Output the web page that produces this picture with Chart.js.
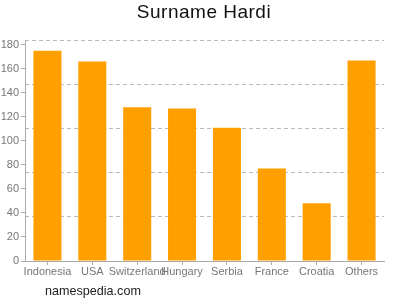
<!DOCTYPE html>
<html>
<head>
<meta charset="utf-8">
<script src="https://cdn.jsdelivr.net/npm/chart.js@4"></script>
<style>
  html, body { margin: 0; padding: 0; background: #fff; }
  #wrap { position: relative; width: 400px; height: 300px; }
  #title {
    position: absolute; left: 0; top: 2px; width: 408px; text-align: center;
    font: 19px "Liberation Sans", Arial, sans-serif; color: #111;
    line-height: 20px; letter-spacing: 0.5px;
  }
  #credit {
    position: absolute; left: 45px; top: 283px;
    font: 12.6px "Liberation Sans", Arial, sans-serif; color: #222;
    line-height: 16px;
  }
</style>
</head>
<body>
<div id="wrap">
  <canvas id="chart" width="400" height="300"></canvas>
  <div id="title">Surname Hardi</div>
  <div id="credit">namespedia.com</div>
</div>
<script>
  // ── Data ─────────────────────────────────────────────
  var countries = ["Indonesia", "USA", "Switzerland", "Hungary", "Serbia", "France", "Croatia", "Others"];
  var counts = [175, 166, 128, 127, 111, 77, 48, 167];
  var yTicks = [0, 20, 40, 60, 80, 100, 120, 140, 160, 180];
  var gridTicks = [0, 36.8, 73.6, 110.4, 147.2, 184];
  var yMax = 184;

  var font = "'Liberation Sans', Arial, sans-serif";
  var axisGray = "#aaaaaa";
  var labelGray = "#777777";

  new Chart(document.getElementById("chart"), {
    type: "bar",
    data: {
      labels: countries,
      datasets: [{
        data: counts,
        backgroundColor: "#ffa000",
        borderWidth: 0,
        categoryPercentage: 1,
        barPercentage: 0.625,
        yAxisID: "y"
      }]
    },
    options: {
      responsive: false,
      animation: false,
      layout: { padding: { left: 0, right: 16, top: 40, bottom: 0 } },
      plugins: {
        legend: { display: false },
        tooltip: { enabled: false },
        title: { display: false }
      },
      scales: {
        x: {
          offset: true,
          grid: { offset: false, drawOnChartArea: false, drawTicks: true, tickLength: 4, color: axisGray },
          border: { color: axisGray },
          ticks: { color: labelGray, font: { family: font, size: 11 }, maxRotation: 0, autoSkip: false, padding: 0 },
          afterFit: function (s) { s.height = 39; }
        },
        y: {
          min: 0,
          max: yMax,
          grid: { drawOnChartArea: false, drawTicks: true, tickLength: 4, color: axisGray },
          border: { color: axisGray },
          ticks: { color: labelGray, font: { family: font, size: 11 }, padding: 2 },
          afterBuildTicks: function (s) { s.ticks = yTicks.map(function (v) { return { value: v }; }); },
          afterFit: function (s) { s.width = 25; }
        },
        y2: {
          position: "right",
          min: 0,
          max: yMax,
          grid: { drawTicks: false, color: "#bbbbbb" },
          border: { display: false, dash: [4, 3] },
          ticks: { display: false },
          afterBuildTicks: function (s) { s.ticks = gridTicks.map(function (v) { return { value: v }; }); },
          afterFit: function (s) { s.width = 0; }
        }
      }
    }
  });
</script>
</body>
</html>
